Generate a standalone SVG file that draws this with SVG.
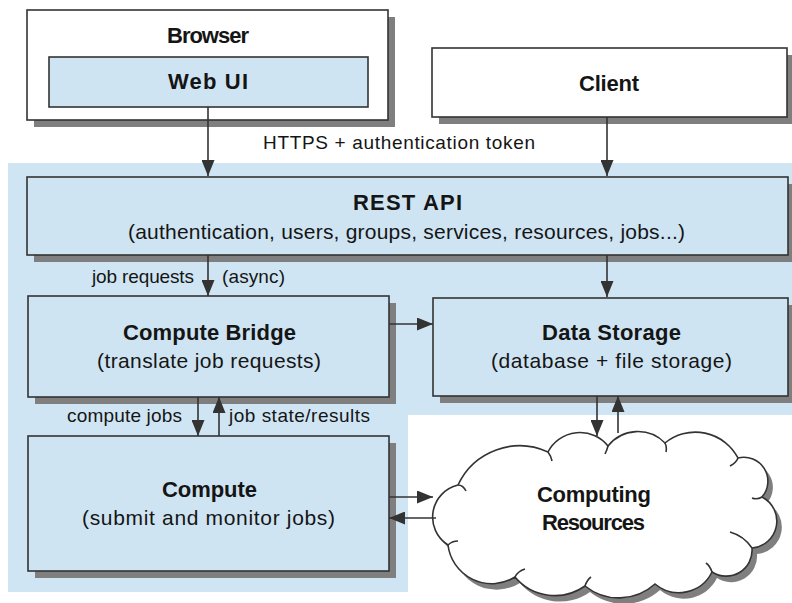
<svg xmlns="http://www.w3.org/2000/svg" width="792" height="603" viewBox="0 0 792 603">
<style>
.box{stroke:#333;stroke-width:1.6}
.blue{fill:#cfe4f2}
.white{fill:#fff}
.sh{fill:#7f7f7f}
.t{font-family:"Liberation Sans",Arial,sans-serif;fill:#151515;font-size:21px}
.b{font-weight:bold;font-size:22px}
.l{font-size:19px}
.c{stroke:#333;stroke-width:1.6;fill:none}
</style>
<defs>
<marker id="ah" markerUnits="userSpaceOnUse" markerWidth="16" markerHeight="13" refX="16" refY="6.5" orient="auto">
<path d="M0,0 L16,6.5 L0,13 z" fill="#333"/>
</marker>
<path id="cloudshape" d="M458,485 A68,68 0 0 1 548,452 A36,36 0 0 1 608,446 A38,38 0 0 1 665,443 A48,48 0 0 1 738,458 A24,24 0 0 1 762,497 A27,27 0 0 1 752,548 A26,26 0 0 1 712,572 A37,37 0 0 1 655,584 A54,54 0 0 1 585,586 A52,52 0 0 1 515,577 A44,44 0 0 1 448,545 A33,33 0 0 1 458,485 Z"/>
</defs>
<rect width="792" height="603" fill="#fff"/>
<path id="bg" d="M8,163 H792 V415 H408 V592 H8 Z" fill="#d0e5f3"/>

<g id="browser">
<rect class="sh" x="34" y="17" width="361" height="110"/>
<rect class="box white" x="27" y="10" width="361" height="110"/>
<text class="t b" x="167" y="43" textLength="82">Browser</text>
</g>
<g id="webui">
<rect class="box blue" x="49" y="57" width="319" height="50"/>
<text class="t b" x="168" y="89" textLength="80">Web UI</text>
</g>
<g id="client">
<rect class="sh" x="439" y="55" width="355" height="69"/>
<rect class="box white" x="432" y="48" width="355" height="69"/>
<text class="t b" x="579" y="91" textLength="60">Client</text>
</g>
<g id="restapi">
<rect class="sh" x="34" y="184" width="761" height="78"/>
<rect class="box blue" x="27" y="177" width="761" height="78"/>
<text class="t b" x="353" y="210" textLength="109">REST API</text>
<text class="t" x="128" y="239" textLength="557">(authentication, users, groups, services, resources, jobs...)</text>
</g>
<g id="bridge">
<rect class="sh" x="35" y="303" width="361" height="101"/>
<rect class="box blue" x="28" y="296" width="361" height="101"/>
<text class="t b" x="123" y="340" textLength="173">Compute Bridge</text>
<text class="t" x="97" y="368" textLength="224">(translate job requests)</text>
</g>
<g id="storage">
<rect class="sh" x="440" y="305" width="355" height="98"/>
<rect class="box blue" x="433" y="298" width="355" height="98"/>
<text class="t b" x="542" y="340" textLength="139">Data Storage</text>
<text class="t" x="491" y="368" textLength="241">(database + file storage)</text>
</g>
<g id="compute">
<rect class="sh" x="35" y="443" width="361" height="135"/>
<rect class="box blue" x="28" y="436" width="361" height="135"/>
<text class="t b" x="162" y="497" textLength="95">Compute</text>
<text class="t" x="82" y="525" textLength="253">(submit and monitor jobs)</text>
</g>
<g id="cloud">
<use href="#cloudshape" transform="translate(5,6)" fill="#7f7f7f"/>
<use href="#cloudshape" class="box" fill="#fff"/>
<path class="c" stroke-width="1.3" d="M458,485 q5,0 8,6 M548,452 q3,4 4,9 M608,446 q-1,4 -3,8 M665,443 q2,4 1,9 M738,458 q-2,5 -8,8 M762,497 q-5,3 -10,1 M752,548 q-8,-12 -22,-16 M712,572 q-2,-6 -6,-9 M585,586 q2,-6 6,-9 M515,577 q3,-6 10,-8 M448,545 q4,-4 10,-4"/>
<text class="t b" x="537" y="502" textLength="114">Computing</text>
<text class="t b" x="542" y="530" textLength="103">Resources</text>
</g>

<g id="connectors">
<line class="c" x1="208" y1="107" x2="208" y2="176" marker-end="url(#ah)"/>
<line class="c" x1="607" y1="117" x2="607" y2="176" marker-end="url(#ah)"/>
<line class="c" x1="208" y1="255" x2="208" y2="296" marker-end="url(#ah)"/>
<line class="c" x1="607" y1="255" x2="607" y2="297" marker-end="url(#ah)"/>
<line class="c" x1="389" y1="324" x2="433" y2="324" marker-end="url(#ah)"/>
<line class="c" x1="198" y1="397" x2="198" y2="436" marker-end="url(#ah)"/>
<line class="c" x1="219" y1="436" x2="219" y2="397" marker-end="url(#ah)"/>
<line class="c" x1="597" y1="396" x2="597" y2="436" marker-end="url(#ah)"/>
<line class="c" x1="618" y1="433" x2="618" y2="396" marker-end="url(#ah)"/>
<line class="c" x1="389" y1="497" x2="433" y2="497" marker-end="url(#ah)"/>
<line class="c" x1="436" y1="518" x2="389" y2="518" marker-end="url(#ah)"/>
<text class="t l" x="263" y="149" textLength="272">HTTPS + authentication token</text>
<text class="t l" x="92" y="283" textLength="102">job requests</text>
<text class="t l" x="222" y="283" textLength="63">(async)</text>
<text class="t l" x="67" y="422" textLength="115">compute jobs</text>
<text class="t l" x="229" y="422" textLength="141">job state/results</text>
</g>
</svg>
